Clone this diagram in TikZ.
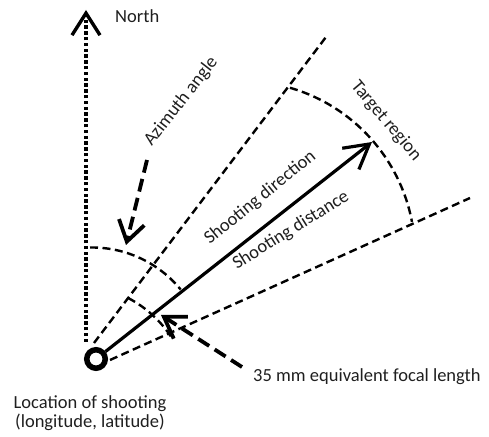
\documentclass[tikz,border=0pt]{standalone}
\usepackage{fontspec}
\setmainfont{Carlito}
\usetikzlibrary{arrows.meta}
\begin{document}
\begin{tikzpicture}[x=1pt,y=1pt,
  fovline/.style={line width=2.4pt, dash pattern=on 8pt off 4.5pt},
  bigarrow/.style={line width=3.8pt, dash pattern=on 13pt off 6.5pt,
    -{Straight Barb[length=20pt,width=26pt]}},
  mainarrow/.style={line width=3.2pt, -{Straight Barb[length=24pt,width=27pt]}},
  northline/.style={line width=3.4pt, dash pattern=on 3.3pt off 2.5pt,
    -{Straight Barb[length=22pt,width=28pt]}},
  lbl/.style={font=\fontsize{18.5}{22}\selectfont, inner sep=0pt, text=black!88}]
\useasboundingbox (0,0) rectangle (489,436);

% location of shooting
\node[draw, circle, line width=5.5pt, minimum size=18.5pt, inner sep=0pt] (O) at (96,77) {};

% named end points
\coordinate (n0) at (86,94);
\coordinate (n1) at (86,426);
\coordinate (u0) at (94,93);
\coordinate (u1) at (326,399);
\coordinate (l0) at (110,76);
\coordinate (l1) at (470,238);
\coordinate (t1) at (372,294);
\coordinate (a0) at (147,276);
\coordinate (a1) at (126,191);
\coordinate (f0) at (242,69);
\coordinate (f1) at (161,121);

% north
\draw[northline] (n0) -- (n1);
% field of view boundaries
\draw[fovline] (u0) -- (u1);
\draw[fovline] (l0) -- (l1);
% shooting direction
\draw[mainarrow] (O) -- (t1);

% arcs
\draw[fovline] (92,74) ++(91:114.5) arc[start angle=91, end angle=39.3, radius=114.5];
\draw[fovline] (75,36) ++(62.5:115) arc[start angle=62.5, end angle=33, radius=115];
\draw[fovline] (242,182) ++(73.9:173) arc[start angle=73.9, end angle=10.7, radius=173];

% pointer arrows
\draw[bigarrow] (a0) -- (a1);
\draw[bigarrow] (f0) -- (f1);

% labels
\node[lbl, anchor=base west] (north) at (115,413.5) {North};
\node[lbl, anchor=base, rotate=52] (azi) at (185,331.5) {Azimuth angle};
\node[lbl, rotate=-50] (target) at (386,315) {Target region};
\node[lbl, anchor=base, rotate=39] (sdir) at (263.3,234.5) {Shooting direction};
\node[lbl, anchor=base, rotate=32] (sdist) at (293.5,201.5) {Shooting distance};
\node[lbl, anchor=base west] (focal) at (253,54.5) {35 mm equivalent focal length};
\node[lbl, anchor=base] (loc1) at (90,28) {Location of shooting};
\node[lbl, anchor=base] (loc2) at (90,8.5) {(longitude, latitude)};
\end{tikzpicture}
\end{document}
